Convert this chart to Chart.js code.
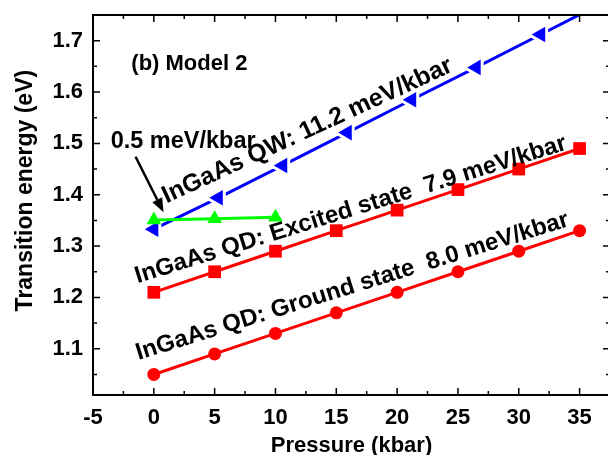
<!DOCTYPE html>
<html><head><meta charset="utf-8">
<script src="https://cdn.jsdelivr.net/npm/chart.js@4"></script>
<style>html,body{margin:0;padding:0;overflow:hidden;background:#fff}</style>
</head><body>
<canvas id="c" width="625" height="455"></canvas>
<script>
// ---- data ----
const pressureQD = [0, 5, 10, 15, 20, 25, 30, 35];
const groundState = [1.05, 1.09, 1.13, 1.17, 1.21, 1.25, 1.29, 1.33];
const excitedState = [1.21, 1.25, 1.29, 1.33, 1.37, 1.41, 1.45, 1.49];
const pressureQW = [0, 5.3, 10.6, 15.9, 21.2, 26.5, 31.8, 37.1];
const qwEnergy = [1.333, 1.394, 1.457, 1.521, 1.585, 1.648, 1.712, 1.776];
const pressureFlat = [0, 5, 10];
const flatEnergy = [1.351, 1.353, 1.356];
const xTickValues = [-5, 0, 5, 10, 15, 20, 25, 30, 35];
const xMinorValues = [-2.5, 2.5, 7.5, 12.5, 17.5, 22.5, 27.5, 32.5];
const yTickValues = [1.1, 1.2, 1.3, 1.4, 1.5, 1.6, 1.7];
const yMinorValues = [1.05, 1.15, 1.25, 1.35, 1.45, 1.55, 1.65, 1.75];
const xTitle = 'Pressure (kbar)';
const yTitle = 'Transition energy (eV)';
const panelLabel = '(b) Model 2';
const arrowLabel = '0.5 meV/kbar';
const qwLabel = 'InGaAs QW: 11.2 meV/kbar';
const excitedLabel = 'InGaAs QD: Excited state  7.9 meV/kbar';
const groundLabel = 'InGaAs QD: Ground state  8.0 meV/kbar';

const pts = (xs, ys) => xs.map((x, i) => ({x: x, y: ys[i]}));

const FONT = '"Liberation Sans", Arial, sans-serif';
Chart.defaults.font.family = FONT;
Chart.defaults.color = '#000';

// annotation anchors (in data units) and styles
const annotations = [
  {text: panelLabel, x: -1.85, y: 1.655, angle: 0, align: 'left', base: 'middle', size: 22},
  {text: arrowLabel, x: -3.55, y: 1.504, angle: 0, align: 'left', base: 'middle', size: 23.5},
  {text: qwLabel, x: 1.05, y: 1.383, angle: -24.8, align: 'left', base: 'alphabetic', size: 24.8},
  {text: excitedLabel, x: -1.34, y: 1.2276, angle: -17.3, align: 'left', base: 'alphabetic', size: 24},
  {text: groundLabel, x: -1.26, y: 1.078, angle: -17.3, align: 'left', base: 'alphabetic', size: 24}
];
const arrowFrom = {x: -1.5, y: 1.474};
const arrowTo = {x: 0.8, y: 1.366};

const deco = {
  id: 'deco',
  afterDatasetsDraw(chart) {
    const {ctx, chartArea: a, scales: {x, y}} = chart;
    ctx.save();
    // frame
    ctx.strokeStyle = '#000';
    ctx.lineWidth = 2;
    ctx.strokeRect(a.left, a.top, a.right - a.left, a.bottom - a.top);
    // inward ticks
    ctx.lineWidth = 1.5;
    const vt = (v, len) => {
      const px = x.getPixelForValue(v);
      ctx.beginPath();
      ctx.moveTo(px, a.bottom); ctx.lineTo(px, a.bottom - len);
      ctx.moveTo(px, a.top); ctx.lineTo(px, a.top + len);
      ctx.stroke();
    };
    const ht = (v, len) => {
      const py = y.getPixelForValue(v);
      ctx.beginPath();
      ctx.moveTo(a.left, py); ctx.lineTo(a.left + len, py);
      ctx.moveTo(a.right, py); ctx.lineTo(a.right - len, py);
      ctx.stroke();
    };
    xTickValues.forEach(v => vt(v, 7));
    xMinorValues.forEach(v => vt(v, 4));
    yTickValues.forEach(v => ht(v, 7));
    yMinorValues.forEach(v => ht(v, 4));
    // arrow
    const x0 = x.getPixelForValue(arrowFrom.x), y0 = y.getPixelForValue(arrowFrom.y);
    const x1 = x.getPixelForValue(arrowTo.x), y1 = y.getPixelForValue(arrowTo.y);
    const ang = Math.atan2(y1 - y0, x1 - x0);
    const hl = 14, hw = 5.5;
    const bx = x1 - hl * Math.cos(ang), by = y1 - hl * Math.sin(ang);
    ctx.lineWidth = 2.5;
    ctx.beginPath(); ctx.moveTo(x0, y0); ctx.lineTo(bx, by); ctx.stroke();
    ctx.fillStyle = '#000';
    ctx.beginPath();
    ctx.moveTo(x1, y1);
    ctx.lineTo(bx + hw * Math.sin(ang), by - hw * Math.cos(ang));
    ctx.lineTo(bx - hw * Math.sin(ang), by + hw * Math.cos(ang));
    ctx.closePath(); ctx.fill();
    // text annotations
    annotations.forEach(t => {
      ctx.save();
      ctx.translate(x.getPixelForValue(t.x), y.getPixelForValue(t.y));
      ctx.rotate(t.angle * Math.PI / 180);
      ctx.font = 'bold ' + t.size + 'px ' + FONT;
      ctx.textAlign = t.align;
      ctx.textBaseline = t.base;
      ctx.fillStyle = '#000';
      ctx.fillText(t.text, 0, 0);
      ctx.restore();
    });
    // y axis title
    ctx.save();
    ctx.translate(26, (y.getPixelForValue(1.408)));
    ctx.rotate(-Math.PI / 2);
    ctx.font = 'bold 23px ' + FONT;
    ctx.textAlign = 'center';
    ctx.textBaseline = 'middle';
    ctx.fillText(yTitle, 0, 0);
    ctx.restore();
    ctx.restore();
  }
};

new Chart(document.getElementById('c'), {
  type: 'line',
  data: {
    datasets: [
      {label: 'flat', data: pts(pressureFlat, flatEnergy), borderColor: '#00ff00', backgroundColor: '#00ff00',
       borderWidth: 3, pointStyle: 'triangle', pointRadius: 8.5, pointBorderWidth: 0, order: 0},
      {label: 'QW markers', data: pts(pressureQW, qwEnergy), showLine: false, borderColor: '#0000ff',
       backgroundColor: '#0000ff', pointStyle: 'triangle', pointRotation: -90, pointRadius: 9, pointBorderWidth: 0, order: 1},
      {label: 'QW gaps', data: pts(pressureQW, qwEnergy), showLine: false, borderColor: '#ffffff',
       backgroundColor: '#ffffff', pointStyle: 'triangle', pointRotation: -90, pointRadius: 12, pointBorderWidth: 3, order: 2},
      {label: 'QW', data: pts(pressureQW, qwEnergy), borderColor: '#0000ff', borderWidth: 3, pointRadius: 0, order: 3},
      {label: 'Excited', data: pts(pressureQD, excitedState), borderColor: '#ff0000', backgroundColor: '#ff0000',
       borderWidth: 3, pointStyle: 'rect', pointRadius: 9, pointBorderWidth: 0, order: 4},
      {label: 'Ground', data: pts(pressureQD, groundState), borderColor: '#ff0000', backgroundColor: '#ff0000',
       borderWidth: 3, pointStyle: 'circle', pointRadius: 6.5, pointBorderWidth: 0, order: 4}
    ]
  },
  options: {
    responsive: false,
    animation: false,
    events: [],
    layout: {padding: {top: 14, right: 8, left: 0, bottom: 0}},
    plugins: {legend: {display: false}, tooltip: {enabled: false}},
    scales: {
      x: {
        type: 'linear', min: -5, max: 37.5,
        afterBuildTicks: s => { s.ticks = xTickValues.map(v => ({value: v})); },
        afterFit: s => { s.height = 60; s.paddingLeft = 0; s.paddingRight = 0; },
        grid: {display: false, drawTicks: false},
        border: {display: false},
        ticks: {font: {size: 22, weight: 'bold'}, color: '#000', padding: 10, maxRotation: 0},
        title: {display: true, text: xTitle, font: {size: 22, weight: 'bold', lineHeight: 1}, color: '#000', padding: {top: 0, bottom: -2}}
      },
      y: {
        type: 'linear', min: 1.01, max: 1.75,
        afterBuildTicks: s => { s.ticks = yTickValues.map(v => ({value: v})); },
        afterFit: s => { s.width = 93; s.paddingTop = 0; s.paddingBottom = 0; },
        grid: {display: false, drawTicks: false},
        border: {display: false},
        ticks: {font: {size: 22, weight: 'bold'}, color: '#000', padding: 10, callback: v => v.toFixed(1)}
      }
    }
  },
  plugins: [deco]
});
</script>
</body></html>
